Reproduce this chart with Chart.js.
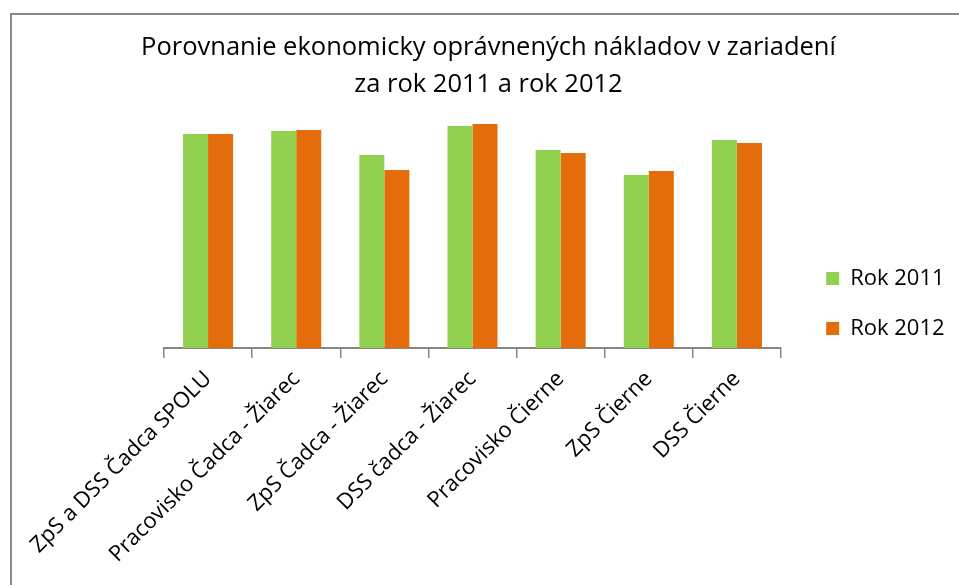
<!DOCTYPE html>
<html>
<head>
<meta charset="utf-8">
<script src="https://cdn.jsdelivr.net/npm/chart.js@4.4.1/dist/chart.umd.min.js"></script>
<style>
    html, body { margin: 0; padding: 0; background: #fff; overflow: hidden; }
    #frame { position: absolute; left: 10px; top: 13px; width: 2000px; height: 2000px; border: 2px solid #8a8a8a; }
    #wrap { position: absolute; left: 0; top: 0; width: 959px; height: 585px; }
</style>
</head>
<body>
<div id="frame"></div>
<div id="wrap"><canvas id="costChart"></canvas></div>
<script>
// categories and series (no value axis in the source, heights read as relative units)
const categories = [
    'ZpS a DSS Čadca SPOLU',
    'Pracovisko Čadca - Žiarec',
    'ZpS Čadca - Žiarec',
    'DSS čadca - Žiarec',
    'Pracovisko Čierne',
    'ZpS Čierne',
    'DSS Čierne'
];
const rok2011 = [214, 217, 193, 222, 198, 173, 208];
const rok2012 = [214, 218, 178, 224, 195, 177, 205];
const seriesNames = ['Rok 2011', 'Rok 2012'];
const titleLines = ['Porovnanie ekonomicky oprávnených nákladov v zariadení', 'za rok 2011 a rok 2012'];

const fontFamily = '"Open Sans", sans-serif';

const ctx = document.getElementById('costChart').getContext('2d');

new Chart(ctx, {
    type: 'bar',
    data: {
        labels: categories,
        datasets: [
            { label: seriesNames[0], data: rok2011, backgroundColor: '#92d050' },
            { label: seriesNames[1], data: rok2012, backgroundColor: '#e46c0a' }
        ]
    },
    options: {
        responsive: true,
        maintainAspectRatio: false,
        animation: false,
        layout: {
            padding: { left: 24, top: 22, right: 6, bottom: 0 }
        },
        datasets: {
            bar: { categoryPercentage: 0.5675, barPercentage: 1.0 }
        },
        plugins: {
            title: {
                display: true,
                text: titleLines,
                color: '#000',
                font: { family: fontFamily, size: 25.5, weight: 'normal', lineHeight: '37px' },
                padding: { top: 7, bottom: 0 }
            },
            legend: {
                position: 'right',
                labels: {
                    boxWidth: 13,
                    boxHeight: 13,
                    padding: 28,
                    color: '#000',
                    font: { family: fontFamily, size: 22 }
                }
            },
            tooltip: { enabled: false }
        },
        scales: {
            x: {
                grid: {
                    drawOnChartArea: false,
                    color: '#868686',
                    lineWidth: 1.5,
                    tickLength: 10
                },
                border: { color: '#868686', width: 2 },
                ticks: {
                    color: '#000',
                    maxRotation: 45,
                    minRotation: 45,
                    padding: 8,
                    font: { family: fontFamily, size: 22 }
                },
                afterFit: function (scale) {
                    scale.height = 237;
                }
            },
            y: {
                min: 0,
                max: 245,
                grid: { display: false },
                border: { display: false },
                ticks: { display: false },
                afterFit: function (scale) {
                    scale.width = 140;
                }
            },
            spacer: {
                position: 'right',
                grid: { display: false },
                border: { display: false },
                ticks: { display: false },
                afterFit: function (scale) {
                    const legendWidth = scale.chart.legend ? scale.chart.legend.width : 0;
                    scale.width = Math.max(0, scale.chart.width - 6 - 781 - legendWidth);
                }
            }
        }
    }
});
</script>
</body>
</html>
